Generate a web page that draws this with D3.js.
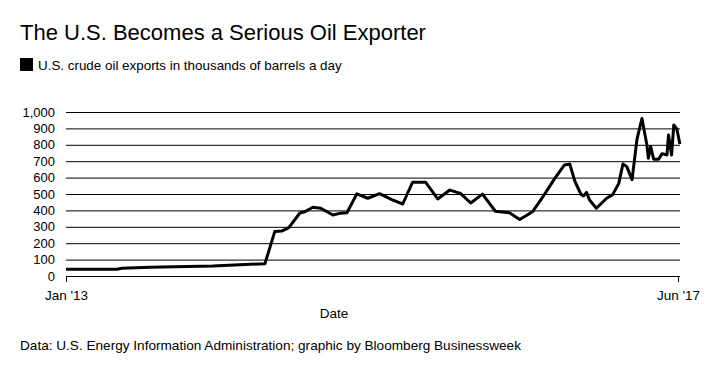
<!DOCTYPE html>
<html>
<head>
<meta charset="utf-8">
<script src="https://cdn.jsdelivr.net/npm/d3@7"></script>
<style>
  body { margin: 0; background: #fff; }
  svg { display: block; font-family: "Liberation Sans", Arial, sans-serif; }
</style>
</head>
<body>
<div id="chart"></div>
<script>
// Data
var dates = [
  "2013-01-01","2013-05-15","2013-05-28","2013-08-10","2014-01-23","2014-04-04","2014-06-09",
  "2014-07-05","2014-07-23","2014-08-11","2014-09-09","2014-09-22","2014-10-13","2014-11-03",
  "2014-12-05","2014-12-23","2015-01-11","2015-02-06","2015-03-07","2015-04-07","2015-05-09",
  "2015-06-07","2015-07-03","2015-08-06","2015-09-07","2015-10-09","2015-11-06","2015-12-03",
  "2016-01-03","2016-02-06","2016-03-14","2016-04-10","2016-05-14","2016-06-09","2016-07-11",
  "2016-08-06","2016-08-20","2016-09-02","2016-09-18","2016-09-25","2016-10-03","2016-10-11",
  "2016-10-29","2016-11-25","2016-12-11","2016-12-27","2017-01-07","2017-01-17","2017-01-31",
  "2017-02-13","2017-02-26","2017-03-11","2017-03-15","2017-03-21","2017-03-29","2017-04-11",
  "2017-04-20","2017-05-03","2017-05-07","2017-05-15","2017-05-21","2017-05-29","2017-06-06"
];
var exportsK = [
  41, 41, 47, 53, 61, 69, 75,
  272, 274, 295, 384, 392, 419, 413,
  372, 382, 386, 501, 474, 502, 466,
  439, 572, 572, 470, 524, 504, 445,
  499, 395, 385, 345, 392, 479, 594,
  677, 683, 580, 500, 488, 510, 463,
  413, 474, 496, 565, 683, 667, 588,
  835, 960, 800, 718, 789, 712, 712,
  746, 738, 860, 738, 921, 895, 805
];
var yTicks = [0, 100, 200, 300, 400, 500, 600, 700, 800, 900, 1000];
var xTickDates = ["2013-01-01", "2017-06-01"];
var xTickLabels = ["Jan '13", "Jun '17"];

var width = 720, height = 373;
var parseDate = d3.timeParse("%Y-%m-%d");

var data = dates.map(function (d, i) {
  return { date: parseDate(d), value: exportsK[i] };
});

var x = d3.scaleTime()
  .domain([parseDate(xTickDates[0]), parseDate(xTickDates[1])])
  .range([66, 678]);
var y = d3.scaleLinear().domain([0, 1000]).range([276, 112]);

var svg = d3.select("#chart").append("svg")
  .attr("width", width)
  .attr("height", height);

// title + legend
svg.append("text")
  .attr("x", 20).attr("y", 40)
  .style("font-size", "22px")
  .text("The U.S. Becomes a Serious Oil Exporter");

svg.append("rect")
  .attr("x", 20).attr("y", 58).attr("width", 13).attr("height", 13)
  .attr("fill", "#000");
svg.append("text")
  .attr("x", 38).attr("y", 70)
  .style("font-size", "13.4px")
  .text("U.S. crude oil exports in thousands of barrels a day");

// y gridlines + labels
var yAxis = d3.axisLeft(y)
  .tickValues(yTicks)
  .tickSize(-(680 - 66))
  .tickPadding(11)
  .tickFormat(d3.format(","));

svg.append("g")
  .attr("transform", "translate(66,0)")
  .call(yAxis)
  .call(function (g) {
    g.select(".domain").remove();
    g.selectAll(".tick line").attr("stroke", "#000").attr("stroke-width", 1);
    g.selectAll(".tick text").style("font-size", "13px").attr("fill", "#000")
      .style("font-family", "Liberation Sans, Arial, sans-serif");
  });

// x axis (end ticks only)
var xAxis = d3.axisBottom(x)
  .tickValues(xTickDates.map(parseDate))
  .tickSize(6)
  .tickPadding(8)
  .tickFormat(function (d, i) { return xTickLabels[i]; });

svg.append("g")
  .attr("transform", "translate(0,276)")
  .call(xAxis)
  .call(function (g) {
    g.select(".domain").remove();
    g.selectAll(".tick line").attr("stroke", "#000");
    g.selectAll(".tick text").style("font-size", "13.5px").attr("fill", "#000")
      .style("font-family", "Liberation Sans, Arial, sans-serif");
  });

svg.append("text")
  .attr("x", 334).attr("y", 318)
  .attr("text-anchor", "middle")
  .style("font-size", "13.5px")
  .text("Date");

// line
var line = d3.line()
  .x(function (d) { return x(d.date); })
  .y(function (d) { return y(d.value); });

svg.append("path")
  .datum(data)
  .attr("fill", "none")
  .attr("stroke", "#000")
  .attr("stroke-width", 3)
  .attr("stroke-linejoin", "round")
  .attr("d", line);

// source
svg.append("text")
  .attr("x", 20).attr("y", 350)
  .style("font-size", "13.6px")
  .text("Data: U.S. Energy Information Administration; graphic by Bloomberg Businessweek");
</script>
</body>
</html>
